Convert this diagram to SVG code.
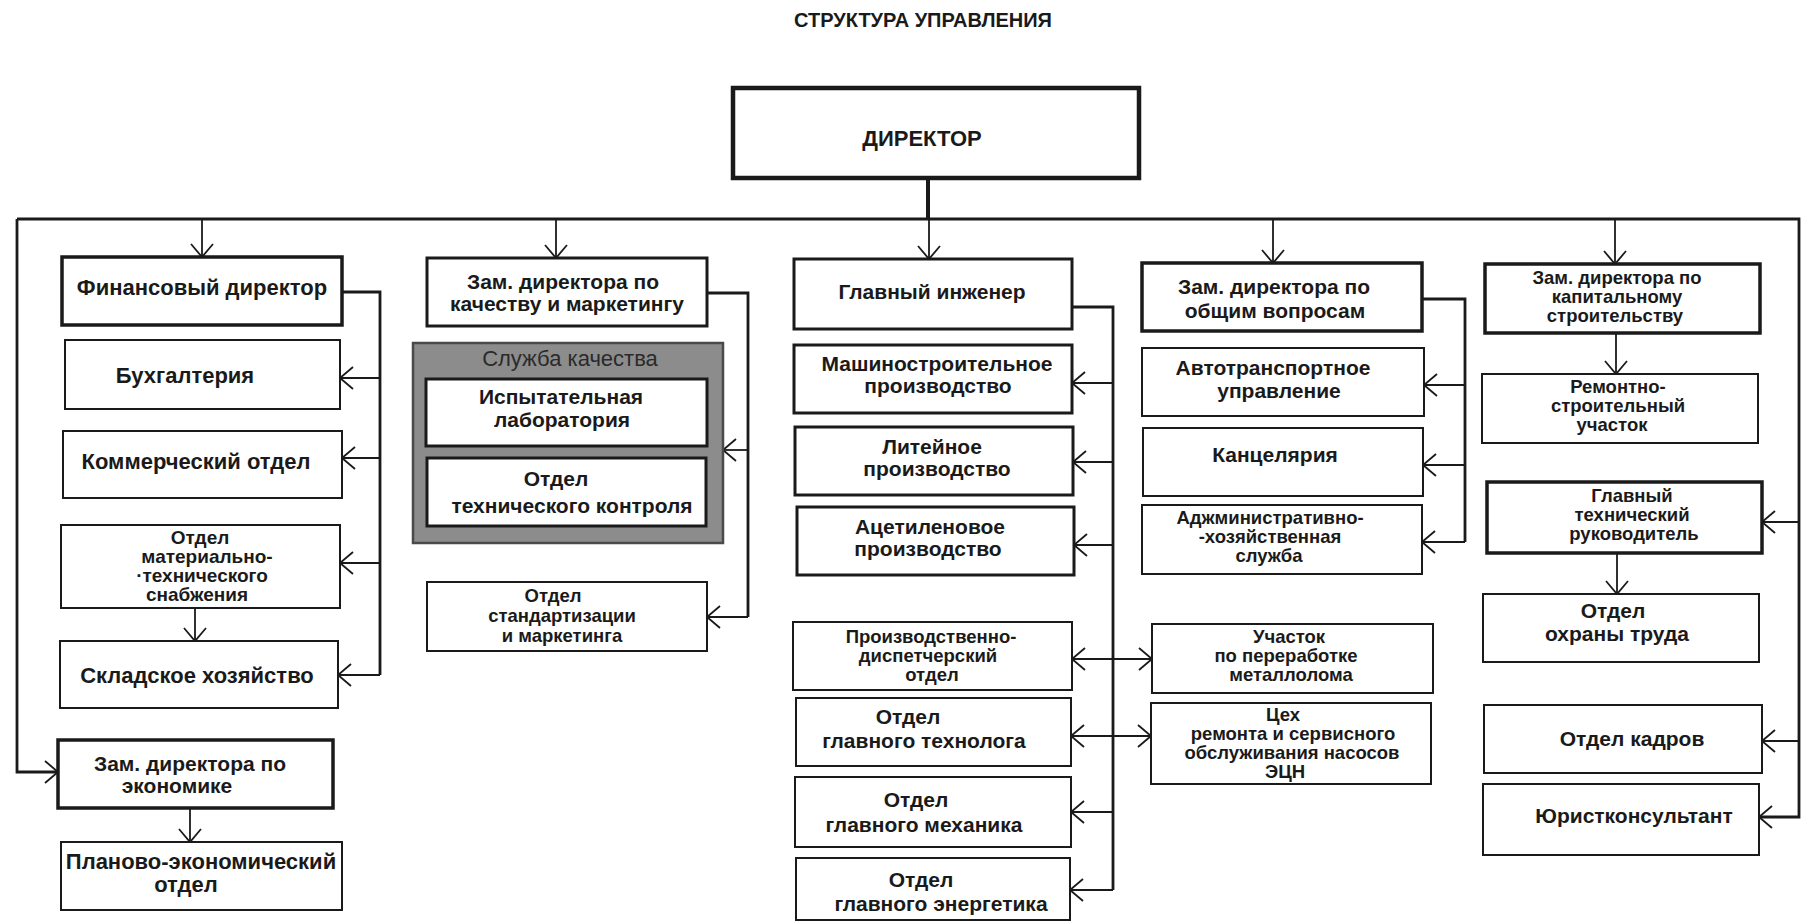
<svg xmlns="http://www.w3.org/2000/svg" width="1803" height="923" viewBox="0 0 1803 923">
<defs>
<style>
.box{fill:#fff;stroke:#1a1a1a;stroke-width:2}
.thick{stroke-width:3.5}
.med{stroke-width:3}
.t{font-family:"Liberation Sans",Arial,sans-serif;font-weight:bold;font-size:21px;fill:#1a1a1a;text-anchor:middle}
.big{font-size:22px}
.sm{font-size:18.5px}
.grp{fill:#8c8c8c;stroke:#4a4a4a;stroke-width:2.5}
.gl{font-family:"Liberation Sans",Arial,sans-serif;font-weight:normal;font-size:22px;fill:#2a2a2a;text-anchor:middle}
.c{fill:none;stroke:#1a1a1a;stroke-width:1.8}
.cb{fill:none;stroke:#1a1a1a;stroke-width:2.8}
</style>
<marker id="ah" viewBox="-15 -14 17 28" refX="0" refY="0" markerWidth="17" markerHeight="28" markerUnits="userSpaceOnUse" orient="auto-start-reverse">
<path d="M-13,-11 L0,0 L-13,11" fill="none" stroke="#1a1a1a" stroke-width="1.8"/>
</marker>
</defs>
<rect width="1803" height="923" fill="#fff"/>
<text class="t" x="923" y="27" style="font-size:20px">СТРУКТУРА УПРАВЛЕНИЯ</text>

<g id="connectors">
<path class="cb" d="M928,178 V219" style="stroke-width:4"/>
<path class="cb" d="M17,219 H1799 V817 H1759" marker-end="url(#ah)"/>
<path class="cb" d="M17,219 V772 H58" marker-end="url(#ah)"/>
<path class="c" d="M202,219 V257" marker-end="url(#ah)"/>
<path class="c" d="M556,219 V258" marker-end="url(#ah)"/>
<path class="c" d="M929,219 V259" marker-end="url(#ah)"/>
<path class="c" d="M1273,219 V263" marker-end="url(#ah)"/>
<path class="c" d="M1615,219 V264" marker-end="url(#ah)"/>
<path class="cb" d="M342,292 H380 V675"/>
<path class="c" d="M380,378 H340" marker-end="url(#ah)"/>
<path class="c" d="M380,458 H342" marker-end="url(#ah)"/>
<path class="c" d="M380,563 H340" marker-end="url(#ah)"/>
<path class="c" d="M380,675 H338" marker-end="url(#ah)"/>
<path class="c" d="M195,608 V641" marker-end="url(#ah)"/>
<path class="c" d="M190,808 V842" marker-end="url(#ah)"/>
<path class="cb" d="M707,293 H748 V617"/>
<path class="c" d="M748,450 H723" marker-end="url(#ah)"/>
<path class="c" d="M748,617 H707" marker-end="url(#ah)"/>
<path class="cb" d="M1072,307 H1113 V890"/>
<path class="c" d="M1113,383 H1072" marker-end="url(#ah)"/>
<path class="c" d="M1113,462 H1073" marker-end="url(#ah)"/>
<path class="c" d="M1113,545 H1074" marker-end="url(#ah)"/>
<path class="c" d="M1072,659 H1152" marker-start="url(#ah)" marker-end="url(#ah)"/>
<path class="c" d="M1071,736 H1151" marker-start="url(#ah)" marker-end="url(#ah)"/>
<path class="c" d="M1113,812 H1071" marker-end="url(#ah)"/>
<path class="c" d="M1113,890 H1070" marker-end="url(#ah)"/>
<path class="cb" d="M1422,299 H1465 V542"/>
<path class="c" d="M1465,385 H1424" marker-end="url(#ah)"/>
<path class="c" d="M1465,465 H1423" marker-end="url(#ah)"/>
<path class="c" d="M1465,542 H1422" marker-end="url(#ah)"/>
<path class="c" d="M1616,333 V374" marker-end="url(#ah)"/>
<path class="c" d="M1617,553 V594" marker-end="url(#ah)"/>
<path class="c" d="M1799,522 H1762" marker-end="url(#ah)"/>
<path class="c" d="M1799,741 H1762" marker-end="url(#ah)"/>
</g>

<g id="director">
<rect class="box" x="733" y="88" width="406" height="90" style="stroke-width:4.5"/>
<text class="t" x="922" y="146" style="font-size:22px">ДИРЕКТОР</text>
</g>

<g id="fin-director">
<rect class="box thick" x="62" y="257" width="280" height="68"/>
<text class="t big" x="202" y="295">Финансовый директор</text>
</g>
<g id="buhgalteriya">
<rect class="box" x="65" y="340" width="275" height="69"/>
<text class="t big" x="185" y="383">Бухгалтерия</text>
</g>
<g id="kommercheskiy">
<rect class="box" x="63" y="431" width="279" height="67"/>
<text class="t big" x="196" y="469">Коммерческий отдел</text>
</g>
<g id="mts">
<rect class="box" x="61" y="525" width="279" height="83"/>
<text class="t sm" style="font-size:19px"><tspan x="200" y="544">Отдел</tspan><tspan x="207" y="563">материально-</tspan><tspan x="202" y="582">·технического</tspan><tspan x="197" y="601">снабжения</tspan></text>
</g>
<g id="sklad">
<rect class="box" x="60" y="641" width="278" height="67"/>
<text class="t big" x="197" y="683">Складское хозяйство</text>
</g>
<g id="zam-econ">
<rect class="box thick" x="58" y="740" width="275" height="68"/>
<text class="t"><tspan x="190" y="771">Зам. директора  по</tspan><tspan x="177" y="793">экономике</tspan></text>
</g>
<g id="plan-econ">
<rect class="box" x="61" y="842" width="281" height="68"/>
<text class="t big"><tspan x="201" y="869">Планово-экономический</tspan><tspan x="186" y="892">отдел</tspan></text>
</g>

<g id="zam-kach">
<rect class="box med" x="427" y="258" width="280" height="68"/>
<text class="t"><tspan x="563" y="289">Зам. директора  по</tspan><tspan x="567" y="311">качеству и маркетингу</tspan></text>
</g>
<g id="sluzhba-kachestva">
<rect class="grp" x="413" y="343" width="310" height="200"/>
<text class="gl" x="570" y="366">Служба качества</text>
</g>
<g id="ispyt-lab">
<rect class="box med" x="426" y="379" width="281" height="67"/>
<text class="t"><tspan x="561" y="404">Испытательная</tspan><tspan x="562" y="427">лаборатория</tspan></text>
</g>
<g id="otk">
<rect class="box med" x="427" y="458" width="279" height="68"/>
<text class="t"><tspan x="556" y="486">Отдел</tspan><tspan x="572" y="513">технического контроля</tspan></text>
</g>
<g id="standart">
<rect class="box" x="427" y="582" width="280" height="69"/>
<text class="t sm"><tspan x="553" y="602">Отдел</tspan><tspan x="562" y="622">стандартизации</tspan><tspan x="562" y="642">и маркетинга</tspan></text>
</g>

<g id="glav-inzh">
<rect class="box med" x="794" y="259" width="278" height="70"/>
<text class="t" x="932" y="299">Главный инженер</text>
</g>
<g id="mash">
<rect class="box med" x="794" y="345" width="278" height="68"/>
<text class="t"><tspan x="937" y="371">Машиностроительное</tspan><tspan x="938" y="393">производство</tspan></text>
</g>
<g id="lit">
<rect class="box med" x="795" y="427" width="278" height="68"/>
<text class="t"><tspan x="932" y="454">Литейное</tspan><tspan x="937" y="476">производство</tspan></text>
</g>
<g id="acet">
<rect class="box med" x="797" y="507" width="277" height="68"/>
<text class="t"><tspan x="930" y="534">Ацетиленовое</tspan><tspan x="928" y="556">производство</tspan></text>
</g>
<g id="disp">
<rect class="box" x="793" y="622" width="279" height="68"/>
<text class="t sm"><tspan x="931" y="643">Производственно-</tspan><tspan x="928" y="662">диспетчерский</tspan><tspan x="932" y="681">отдел</tspan></text>
</g>
<g id="tehnolog">
<rect class="box" x="796" y="698" width="275" height="68"/>
<text class="t"><tspan x="908" y="724">Отдел</tspan><tspan x="924" y="748">главного  технолога</tspan></text>
</g>
<g id="mehanik">
<rect class="box" x="795" y="777" width="276" height="70"/>
<text class="t"><tspan x="916" y="807">Отдел</tspan><tspan x="924" y="832">главного механика</tspan></text>
</g>
<g id="energetik">
<rect class="box" x="796" y="858" width="274" height="62"/>
<text class="t"><tspan x="921" y="887">Отдел</tspan><tspan x="941" y="911">главного  энергетика</tspan></text>
</g>
<g id="metallolom">
<rect class="box" x="1152" y="624" width="281" height="69"/>
<text class="t sm"><tspan x="1289" y="643">Участок</tspan><tspan x="1286" y="662">по  переработке</tspan><tspan x="1291" y="681">металлолома</tspan></text>
</g>
<g id="ceh-ecn">
<rect class="box" x="1151" y="703" width="280" height="81"/>
<text class="t sm"><tspan x="1283" y="721">Цех</tspan><tspan x="1293" y="740">ремонта и сервисного</tspan><tspan x="1292" y="759">обслуживания  насосов</tspan><tspan x="1285" y="778">ЭЦН</tspan></text>
</g>

<g id="zam-obsh">
<rect class="box thick" x="1142" y="263" width="280" height="68"/>
<text class="t"><tspan x="1274" y="294">Зам. директора  по</tspan><tspan x="1275" y="318">общим вопросам</tspan></text>
</g>
<g id="avto">
<rect class="box" x="1142" y="348" width="282" height="68"/>
<text class="t"><tspan x="1273" y="375">Автотранспортное</tspan><tspan x="1279" y="398">управление</tspan></text>
</g>
<g id="kanc">
<rect class="box" x="1143" y="428" width="280" height="68"/>
<text class="t" x="1275" y="462">Канцелярия</text>
</g>
<g id="adm-hoz">
<rect class="box" x="1142" y="505" width="280" height="69"/>
<text class="t sm"><tspan x="1270" y="524">Аджминистративно-</tspan><tspan x="1270" y="543">-хозяйственная</tspan><tspan x="1269" y="562">служба</tspan></text>
</g>

<g id="zam-kap">
<rect class="box thick" x="1485" y="264" width="275" height="69"/>
<text class="t sm"><tspan x="1617" y="284">Зам. директора  по</tspan><tspan x="1617" y="303">капитальному</tspan><tspan x="1615" y="322">строительству</tspan></text>
</g>
<g id="rem-str">
<rect class="box" x="1482" y="374" width="276" height="69"/>
<text class="t sm"><tspan x="1618" y="393">Ремонтно-</tspan><tspan x="1618" y="412">строительный</tspan><tspan x="1612" y="431">участок</tspan></text>
</g>
<g id="glav-tech">
<rect class="box thick" x="1487" y="482" width="275" height="71"/>
<text class="t sm"><tspan x="1632" y="502">Главный</tspan><tspan x="1632" y="521">технический</tspan><tspan x="1634" y="540">руководитель</tspan></text>
</g>
<g id="ohrana">
<rect class="box" x="1483" y="594" width="276" height="68"/>
<text class="t"><tspan x="1613" y="618">Отдел</tspan><tspan x="1617" y="641">охраны труда</tspan></text>
</g>
<g id="kadry">
<rect class="box" x="1484" y="705" width="278" height="68"/>
<text class="t" x="1632" y="746">Отдел  кадров</text>
</g>
<g id="jurist">
<rect class="box" x="1483" y="784" width="276" height="71"/>
<text class="t" x="1634" y="823">Юристконсультант</text>
</g>
</svg>
